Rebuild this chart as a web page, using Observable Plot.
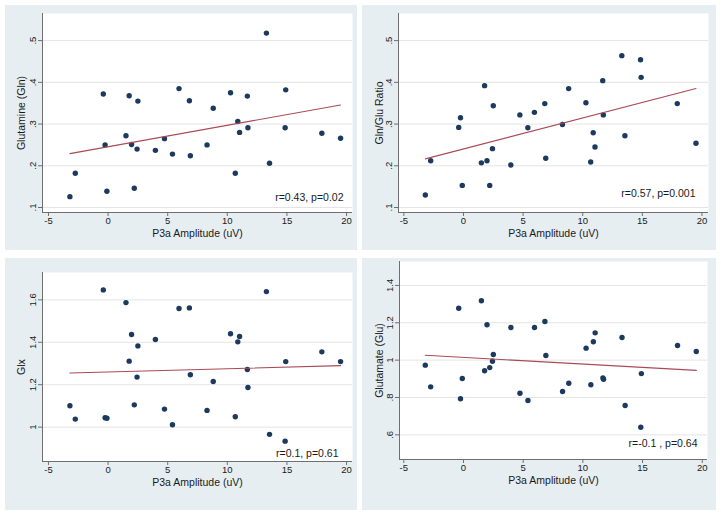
<!DOCTYPE html>
<html><head><meta charset="utf-8">
<script src="https://cdn.jsdelivr.net/npm/d3@7"></script>
<script src="https://cdn.jsdelivr.net/npm/@observablehq/plot@0.6"></script>
<style>
body{margin:0;background:#fff;}
#wrap{position:relative;width:721px;height:515px;overflow:hidden;background:#fff;}
.panel{position:absolute;}
.panel svg{display:block;}
</style></head><body><div id="wrap"></div>
<script>
// ---- data ----
const p3a = [-3.2, -2.75, -0.4, -0.25, -0.1, 1.5, 1.77, 1.97, 2.2, 2.43, 2.5, 3.97, 4.73, 5.4, 5.95, 6.82, 6.9, 8.3, 8.82, 10.27, 10.67, 10.88, 11.03, 11.68, 11.73, 13.28, 13.54, 14.85, 14.9, 17.93, 19.5];
const gln = [0.126, 0.182, 0.372, 0.250, 0.139, 0.272, 0.368, 0.251, 0.146, 0.240, 0.355, 0.237, 0.265, 0.228, 0.385, 0.356, 0.224, 0.250, 0.338, 0.375, 0.182, 0.306, 0.280, 0.367, 0.291, 0.518, 0.206, 0.291, 0.382, 0.278, 0.266];
const glnGluRatio = [0.130, 0.212, 0.292, 0.315, 0.153, 0.207, 0.392, 0.212, 0.153, 0.241, 0.344, 0.202, 0.322, 0.291, 0.328, 0.349, 0.218, 0.299, 0.385, 0.351, 0.209, 0.279, 0.245, 0.404, 0.322, 0.464, 0.272, 0.454, 0.412, 0.349, 0.254];
const glx = [1.101, 1.038, 1.647, 1.044, 1.042, 1.587, 1.311, 1.437, 1.105, 1.236, 1.383, 1.413, 1.085, 1.011, 1.559, 1.562, 1.247, 1.079, 1.215, 1.440, 1.049, 1.402, 1.427, 1.272, 1.187, 1.639, 0.966, 0.934, 1.309, 1.355, 1.309];
const glu = [0.973, 0.857, 1.278, 0.793, 0.902, 1.318, 0.943, 1.189, 0.960, 0.994, 1.030, 1.175, 0.823, 0.784, 1.175, 1.207, 1.025, 0.832, 0.876, 1.064, 0.868, 1.098, 1.146, 0.905, 0.898, 1.121, 0.757, 0.641, 0.928, 1.078, 1.046];

const xTicks = [-5, 0, 5, 10, 15, 20];
const xTickLabels = ["-5", "0", "5", "10", "15", "20"];
const xTitle = "P3a Amplitude (uV)";

const glnTicks = [0.1, 0.2, 0.3, 0.4, 0.5];
const glnTickLabels = [".1", ".2", ".3", ".4", ".5"];
const ratioTicks = [0.1, 0.2, 0.3, 0.4, 0.5];
const ratioTickLabels = [".1", ".2", ".3", ".4", ".5"];
const glxTicks = [1, 1.2, 1.4, 1.6];
const glxTickLabels = ["1", "1.2", "1.4", "1.6"];
const gluTicks = [0.6, 0.8, 1, 1.2, 1.4];
const gluTickLabels = [".6", ".8", "1", "1.2", "1.4"];

const yTitles = ["Glutamine (Gln)", "Gln/Glu Ratio", "Glx", "Glutamate (Glu)"];
const statLabels = ["r=0.43, p=0.02", "r=0.57, p=0.001", "r=0.1, p=0.61", "r=-0.1 , p=0.64"];

// ---- layout ----
const panels = [
  {y: gln, ticks: glnTicks, labels: glnTickLabels, title: yTitles[0], stat: statLabels[0],
   left: 5, top: 5, width: 352, height: 245, mL: 37, mR: 5, mT: 8, mB: 38,
   xDom: [-5.5, 20.5], yDom: [0.088, 0.565], sdx: -9, sdy: -15, ytdx: -21, xtdy: 21},
  {y: glnGluRatio, ticks: ratioTicks, labels: ratioTickLabels, title: yTitles[1], stat: statLabels[1],
   left: 362, top: 5, width: 354, height: 245, mL: 36, mR: 8, mT: 8, mB: 38,
   xDom: [-5.45, 20.55], yDom: [0.088, 0.565], sdx: -13, sdy: -19, ytdx: -19, xtdy: 21},
  {y: glx, ticks: glxTicks, labels: glxTickLabels, title: yTitles[2], stat: statLabels[2],
   left: 5, top: 258, width: 352, height: 252, mL: 37, mR: 5, mT: 14, mB: 49,
   xDom: [-5.5, 20.5], yDom: [0.838, 1.729], sdx: -14, sdy: -8, ytdx: -21, xtdy: 21},
  {y: glu, ticks: gluTicks, labels: gluTickLabels, title: yTitles[3], stat: statLabels[3],
   left: 362, top: 258, width: 354, height: 252, mL: 37, mR: 9, mT: 3, mB: 51,
   xDom: [-5.36, 20.44], yDom: [0.468, 1.528], sdx: -10, sdy: -16, ytdx: -20, xtdy: 21}
];

const BG = "#e7eef1", NAVY = "#1b3a5e", FIT = "#a84b57", AXIS = "#6f6f6f", GRID = "#e4e4e4", TXT = "#1a1a1a";
const xLab = new Map(xTicks.map((t, i) => [t, xTickLabels[i]]));
const wrap = document.getElementById("wrap");

for (const p of panels) {
  const data = p3a.map((x, i) => ({x, y: p.y[i]}));
  const yLab = new Map(p.ticks.map((t, i) => [t, p.labels[i]]));
  const chart = Plot.plot({
    width: p.width, height: p.height,
    marginLeft: p.mL, marginRight: p.mR, marginTop: p.mT, marginBottom: p.mB,
    style: {background: BG, fontFamily: "'Liberation Sans', Arial, Helvetica, sans-serif", fontSize: "9.5px", color: TXT},
    x: {domain: p.xDom},
    y: {domain: p.yDom},
    marks: [
      Plot.frame({fill: "white", stroke: "none"}),
      Plot.ruleY(p.ticks, {stroke: GRID, strokeWidth: 1}),
      Plot.ruleX([p.xDom[0]], {stroke: AXIS, strokeWidth: 1}),
      Plot.ruleY([p.yDom[0]], {stroke: AXIS, strokeWidth: 1}),
      Plot.axisX({ticks: xTicks, tickFormat: d => xLab.get(d), tickSize: 4, tickPadding: 1, label: null, stroke: AXIS, fill: TXT, fontSize: 9.5}),
      Plot.axisY({ticks: p.ticks, tickFormat: () => "", tickSize: 4, label: null, stroke: AXIS}),
      Plot.text(p.ticks, {y: d => d, text: d => yLab.get(d), frameAnchor: "left", rotate: -90, textAnchor: "middle", lineAnchor: "bottom", dx: -6.5, fill: TXT, fontSize: 9.5}),
      Plot.dot(data, {x: "x", y: "y", r: 2.7, fill: NAVY, stroke: "none"}),
      Plot.linearRegressionY(data, {x: "x", y: "y", ci: 0, stroke: FIT, strokeWidth: 1.1}),
      Plot.text([p.stat], {text: d => d, frameAnchor: "bottom-right", textAnchor: "end", lineAnchor: "middle", dx: p.sdx, dy: p.sdy, fill: TXT, fontSize: 10.5}),
      Plot.text([xTitle], {text: d => d, frameAnchor: "bottom", textAnchor: "middle", lineAnchor: "middle", dy: p.xtdy, fill: TXT, fontSize: 10.5}),
      Plot.text([p.title], {text: d => d, frameAnchor: "left", rotate: -90, textAnchor: "middle", lineAnchor: "middle", dx: p.ytdx, fill: TXT, fontSize: 10.5})
    ]
  });
  const div = document.createElement("div");
  div.className = "panel";
  div.style.left = p.left + "px";
  div.style.top = p.top + "px";
  div.appendChild(chart);
  wrap.appendChild(div);
}
</script></body></html>
